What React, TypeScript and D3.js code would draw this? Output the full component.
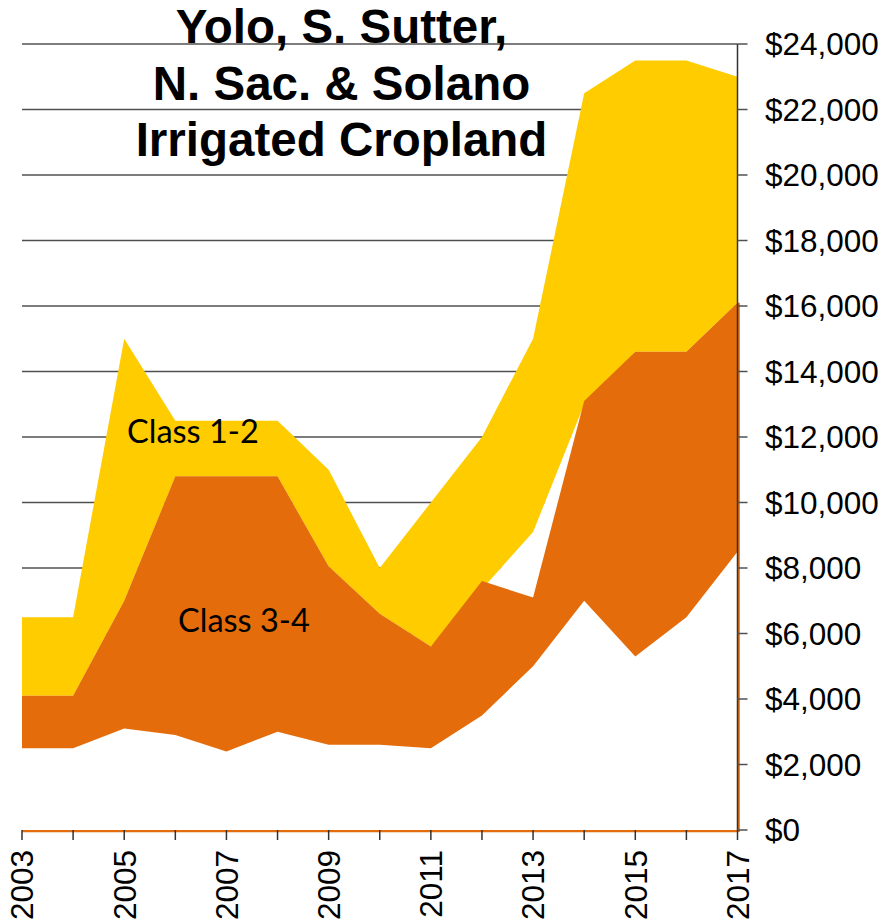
import React from "react";
import * as d3 from "d3";

// Values, $ per acre
const years = [2003, 2004, 2005, 2006, 2007, 2008, 2009, 2010, 2011, 2012, 2013, 2014, 2015, 2016, 2017];
const class12High = [6500, 6500, 15000, 12500, 12500, 12500, 11000, 8000, 10000, 12000, 15000, 22500, 23500, 23500, 23000];
const class12Low = [4100, 4100, 7000, 10800, 10800, 10800, 8050, 6600, 5600, 7350, 9100, 13000, 14600, 14600, 16100];
const class34High = [4100, 4100, 7000, 10800, 10800, 10800, 8050, 6600, 5600, 7600, 7100, 13100, 14600, 14600, 16100];
const class34Low = [2500, 2500, 3100, 2900, 2400, 3000, 2600, 2600, 2500, 3500, 5000, 7000, 5300, 6500, 8500];
const yTicks = d3.range(0, 24001, 2000);
const xLabelYears = [2003, 2005, 2007, 2009, 2011, 2013, 2015, 2017];
const titleLines = ["Yolo, S. Sutter,", "N. Sac. & Solano", "Irrigated Cropland"];

const W = 884;
const H = 924;
const left = 22;
const right = 737.5;
const top = 44;
const bottom = 830;

const YELLOW = "#FFCC00";
const ORANGE = "#E46C0A";
const GRID = "#505050";

export default function App() {
  const x = d3.scaleLinear().domain([2003, 2017]).range([left, right]);
  const y = d3.scaleLinear().domain([0, 24000]).range([bottom, top]);

  const band = (lo: number[], hi: number[]) =>
    d3.area<number>()
      .x((d) => x(d))
      .y0((_, i) => y(lo[i]))
      .y1((_, i) => y(hi[i]))(years) as string;
  const base = (hi: number[]) =>
    d3.area<number>()
      .x((d) => x(d))
      .y0(y(0))
      .y1((_, i) => y(hi[i]))(years) as string;

  const last = years.length - 1;
  const font = "'Liberation Sans', Arial, sans-serif";

  return (
    <svg width={W} height={H} style={{ position: "absolute", left: 0, top: 0, background: "#fff" }}>
      {/* gridlines */}
      {yTicks.filter((t) => t > 0).map((t) => (
        <line key={t} x1={left} x2={right} y1={y(t)} y2={y(t)} stroke={GRID} strokeWidth={1.5} />
      ))}

      {/* class 1-2 range: white base hides the grid below it */}
      <path d={base(class12Low)} fill="#fff" />
      <path d={band(class12Low, class12High)} fill={YELLOW} />

      {/* class 3-4 range */}
      <path d={base(class34High)} fill={ORANGE} />
      <path d={base(class34Low)} fill="#fff" />

      {/* orange edge left along the baseline and right side */}
      <line x1={x(2003)} x2={x(2017) + 1} y1={y(0) + 1.2} y2={y(0) + 1.2} stroke={ORANGE} strokeWidth={2.2} />
      <line x1={x(2017) + 1.3} x2={x(2017) + 1.3} y1={y(class34High[last])} y2={y(0) + 2} stroke={ORANGE} strokeWidth={2} />

      {/* right axis */}
      <line x1={right} x2={right} y1={y(24000)} y2={y(0)} stroke="#333" strokeWidth={1.5} />
      {yTicks.map((t) => (
        <g key={t}>
          <line x1={right} x2={right + 10} y1={y(t)} y2={y(t)} stroke={GRID} strokeWidth={1.5} />
          <text x={765} y={y(t)} dy="0.36em" fontFamily={font} fontSize={31.5} fill="#000">
            {d3.format("$,")(t)}
          </text>
        </g>
      ))}

      {/* x axis ticks and labels */}
      {years.map((yr) => (
        <line key={yr} x1={x(yr)} x2={x(yr)} y1={y(0)} y2={y(0) + 10} stroke="#333" strokeWidth={1.5} />
      ))}
      {xLabelYears.map((yr) => (
        <text
          key={yr}
          transform={`translate(${x(yr)},${y(0) + 20}) rotate(-90)`}
          textAnchor="end"
          dy="0.36em"
          fontFamily={font}
          fontSize={31.5}
          fill="#000"
        >
          {yr}
        </text>
      ))}

      {/* series labels */}
      <text x={127} y={443} fontFamily="Lato, 'Open Sans', sans-serif" fontSize={32.5} fill="#000">
        Class 1-2
      </text>
      <text x={178} y={632} fontFamily="Lato, 'Open Sans', sans-serif" fontSize={32.5} fill="#000">
        Class 3-4
      </text>

      {/* title */}
      {titleLines.map((t, i) => (
        <text
          key={t}
          x={341.5}
          y={43 + i * 56.5}
          textAnchor="middle"
          fontFamily={font}
          fontWeight="bold"
          fontSize={47.5}
          fill="#000"
        >
          {t}
        </text>
      ))}
    </svg>
  );
}
